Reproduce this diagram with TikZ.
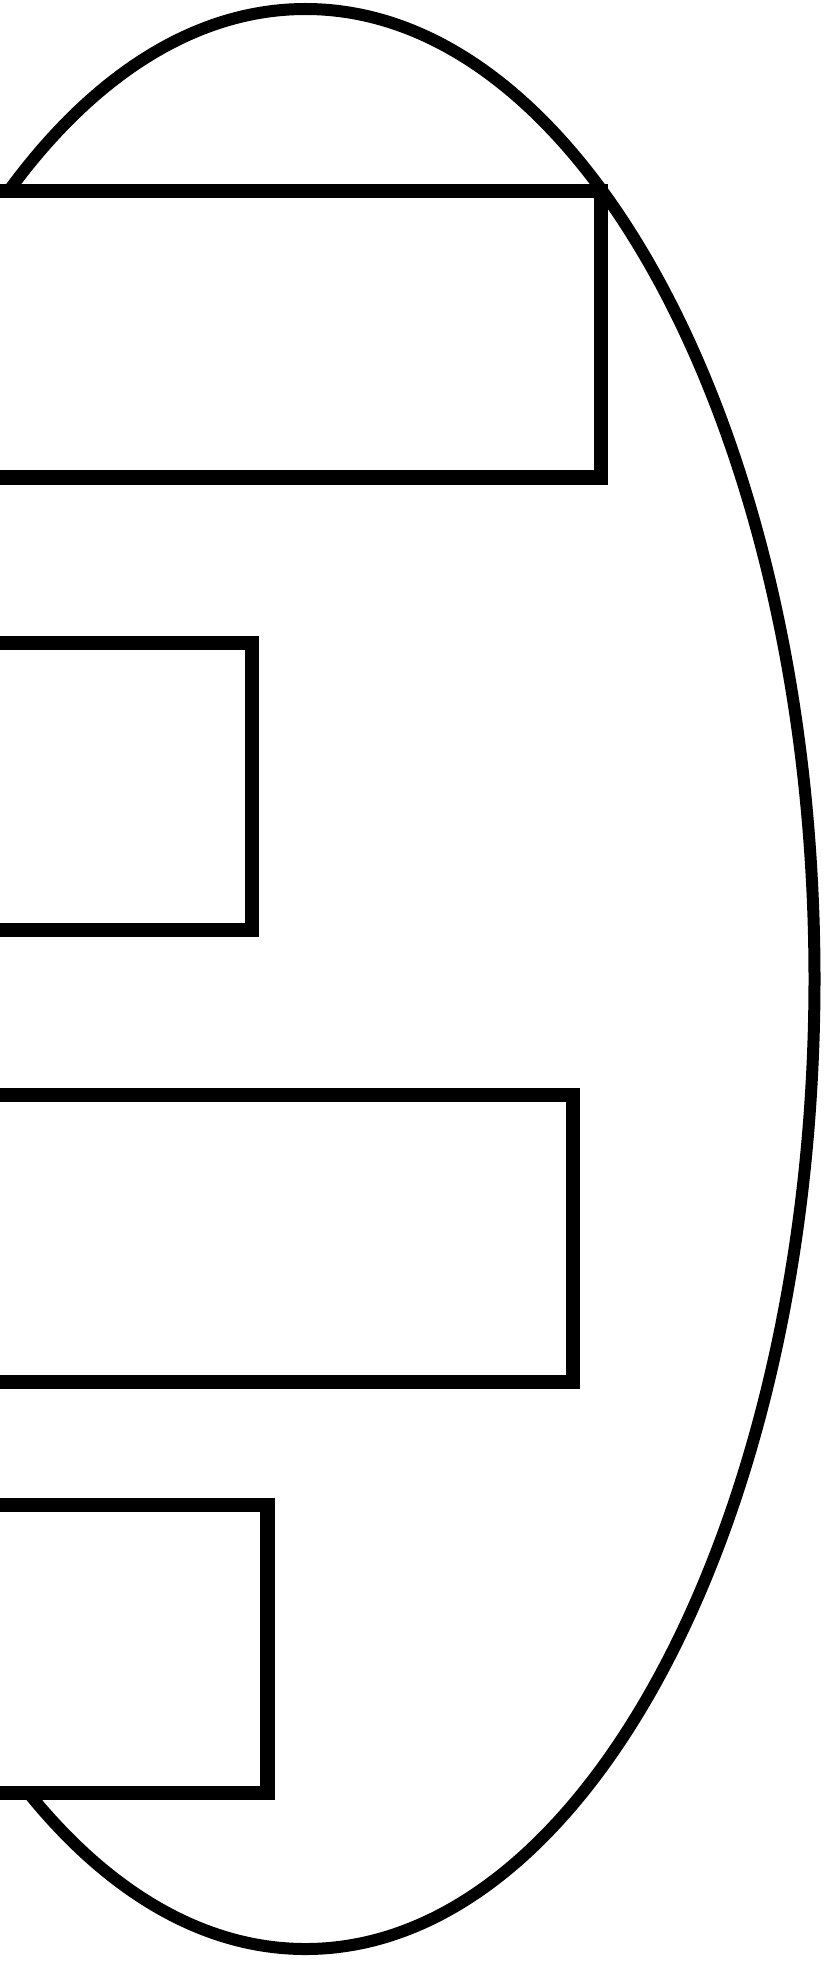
\documentclass[tikz,border=0pt]{standalone}
\begin{document}
\begin{tikzpicture}[x=1pt,y=-1pt,
  bar/.style={draw=black,fill=white,line width=14.5pt,miter limit=10},
  oval/.style={draw=black,line width=12pt}]
\useasboundingbox (0,0) rectangle (833,1964);
\clip (0,0) rectangle (833,1964);
\fill[white] (0,0) rectangle (833,1964);
\draw[oval] (305.5,979) ellipse [x radius=509, y radius=970];
\draw[bar] (-40,191) rectangle (601,477.5);
\draw[bar] (-40,643) rectangle (252,930);
\draw[bar] (-40,1095) rectangle (573,1382);
\draw[bar] (-40,1505) rectangle (267.5,1793);
\end{tikzpicture}
\end{document}
